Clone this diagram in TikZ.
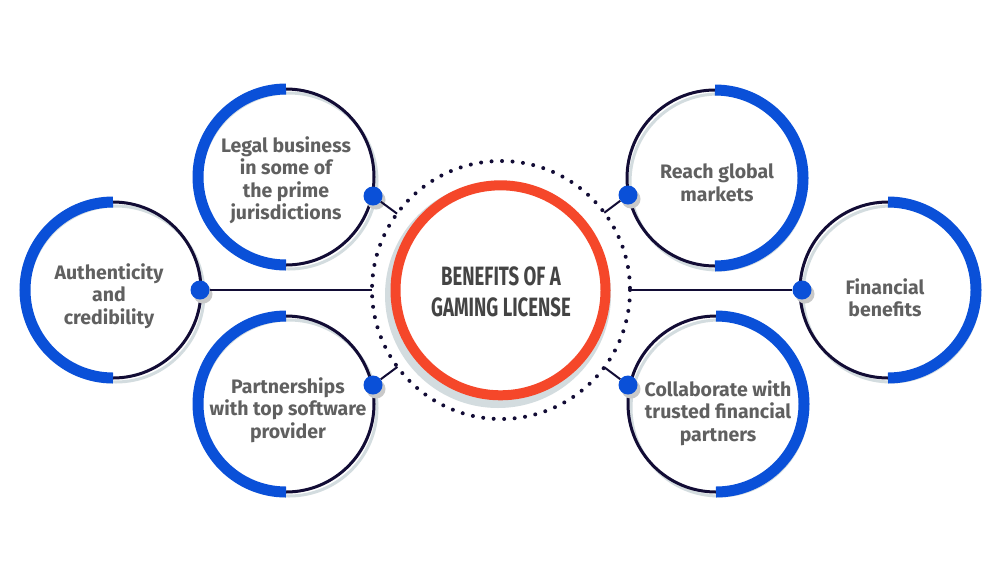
\documentclass[tikz,border=0pt]{standalone}
\usepackage{fontspec}
\setmainfont{Fira Sans}
\usetikzlibrary{calc}
\definecolor{cblue}{HTML}{0A50D8}
\definecolor{cnavy}{HTML}{120C35}
\definecolor{cred}{HTML}{F5472A}
\definecolor{cshadow}{HTML}{D3DCDF}
\definecolor{cdotsh}{HTML}{C9C9C9}
\definecolor{ctext}{HTML}{606060}
\definecolor{ctitle}{HTML}{444444}
\begin{document}
\begin{tikzpicture}[x=1pt,y=-1pt,
  ring/.style={circle, draw=cnavy, line width=3pt, minimum size=176pt, inner sep=0pt},
  ringshadow/.style={draw=cshadow, line width=3pt},
  bluearc/.style={draw=cblue, line width=11pt},
  dotnode/.style={circle, fill=cblue, minimum size=19pt, inner sep=0pt},
  dotshadow/.style={fill=cdotsh},
  conn/.style={draw=cnavy, line width=2pt},
  label/.style={text=ctext, align=center, font=\bfseries\fontsize{19.5}{22.5}\selectfont},
  title/.style={text=ctitle, align=center, font=\bfseries\fontsize{26.5}{31}\selectfont}
]
\useasboundingbox (0,0) rectangle (1000,579);
\fill[white] (0,0) rectangle (1000,579);

% centre
\coordinate (C) at (501,290);
\fill[cshadow] (498,295) circle (113);
\draw[cnavy, line width=4pt, line cap=round, dash pattern=on 0pt off 10.5pt] (C) circle (129);

% benefit circles: shadows
\foreach \cx/\cy in {286/177, 113/290, 286/404, 715/178, 888/290, 716/404}
  \draw[ringshadow] (\cx+3,\cy+4) circle (88);

\node[ring] (legal) at (286,177) {};
\node[ring] (auth) at (113,290) {};
\node[ring] (partner) at (286,404) {};
\node[ring] (reach) at (715,178) {};
\node[ring] (fin) at (888,290) {};
\node[ring] (collab) at (716,404) {};

% blue halves
\draw[bluearc] (legal.center) ++(90:88) arc (90:270:88);
\draw[bluearc] (auth.center) ++(90:88) arc (90:270:88);
\draw[bluearc] (partner.center) ++(90:88) arc (90:270:88);
\draw[bluearc] (reach.center) ++(-90:88) arc (-90:90:88);
\draw[bluearc] (fin.center) ++(-90:88) arc (-90:90:88);
\draw[bluearc] (collab.center) ++(-90:88) arc (-90:90:88);

% red central ring
\node[circle, draw=cred, fill=white, line width=10pt, minimum size=210pt, inner sep=0pt] (core) at (500.5,290.3) {};
\node[title] at (501,292) {\scalebox{0.7}[1]{BENEFITS OF A}\\\scalebox{0.7}[1]{GAMING LICENSE}};

% dots
\foreach \x/\y in {373/196, 200/290, 373/385, 628/195, 802/290, 628/385}
  \fill[dotshadow] (\x+3,\y+4) circle (9.5);
\node[dotnode] (d1) at (373,196) {};
\node[dotnode] (d2) at (200,290) {};
\node[dotnode] (d3) at (373,385) {};
\node[dotnode] (d4) at (628,195) {};
\node[dotnode] (d5) at (802,290) {};
\node[dotnode] (d6) at (628,385) {};

% connectors
\coordinate (e1) at ($(C)!129pt!(d1)$);
\coordinate (e2) at ($(C)!129pt!(d2)$);
\coordinate (e3) at ($(C)!129pt!(d3)$);
\coordinate (e4) at ($(C)!129pt!(d4)$);
\coordinate (e5) at ($(C)!129pt!(d5)$);
\coordinate (e6) at ($(C)!129pt!(d6)$);
\draw[conn] (d1) -- (e1);
\draw[conn] (d2) -- (e2);
\draw[conn] (d3) -- (e3);
\draw[conn] (d4) -- (e4);
\draw[conn] (d5) -- (e5);
\draw[conn] (d6) -- (e6);

% labels
\node[label] (tlegal) at (286,180) {Legal business\\in some of\\the prime\\jurisdictions};
\node[label] (tauth) at (109,296) {Authenticity\\and\\credibility};
\node[label] (tpartner) at (288,410) {Partnerships\\with top software\\provider};
\node[label] (treach) at (717,183) {Reach global\\markets};
\node[label] (tfin) at (885,298) {Financial\\benefits};
\node[label] (tcollab) at (718,413) {Collaborate with\\trusted financial\\partners};
\end{tikzpicture}
\end{document}
